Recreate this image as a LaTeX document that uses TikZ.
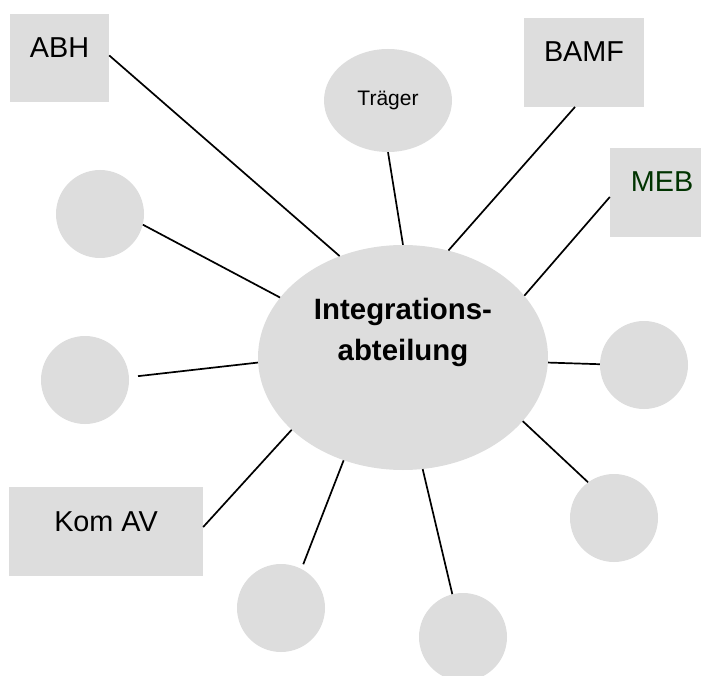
\documentclass[tikz,border=0pt]{standalone}
\usepackage{fontspec}
\setmainfont{Liberation Sans}
\usetikzlibrary{shapes.geometric}
\definecolor{boxgray}{RGB}{221,221,221}
\definecolor{mebgreen}{RGB}{0,51,0}
\begin{document}
\begin{tikzpicture}[x=1pt,y=-1pt,
  box/.style={rectangle, fill=boxgray, inner sep=0pt, minimum height=88.5pt,
    text height=20.5pt, text depth=21.5pt, font=\fontsize{28.8}{34}\selectfont},
  bubble/.style={circle, fill=boxgray, inner sep=0pt, minimum size=88pt},
  link/.style={line width=1.7pt, black},
  maintext/.style={font=\fontsize{29.4}{35}\selectfont\bfseries, anchor=base, inner sep=0pt}
]
\useasboundingbox (0,0) rectangle (701,676);
% boxes
\node[box, minimum width=99pt] (abh) at (59.5,58) {ABH};
\node[box, minimum width=120pt] (bamf) at (584,62.5) {BAMF};
\node[box, minimum width=104pt, text=mebgreen] (meb) at (662,192.5) {MEB};
\node[box, minimum width=194pt] (kom) at (106,531.5) {Kom AV};
% ellipses
\node[ellipse, fill=boxgray, minimum width=128pt, minimum height=103pt, inner sep=0pt,
  font=\fontsize{21}{24}\selectfont] (traeger) at (388,100.5) {Träger};
\node[ellipse, fill=boxgray, minimum width=290pt, minimum height=225pt, inner sep=0pt] (int) at (403,357.5) {};
\node[maintext] (t1) at (403,319) {Integrations-};
\node[maintext] (t2) at (403,360) {abteilung};
% circles
\node[bubble] (c1) at (100,214) {};
\node[bubble] (c2) at (85,380) {};
\node[bubble] (c3) at (644,365) {};
\node[bubble] (c4) at (614,518) {};
\node[bubble] (c5) at (281,608) {};
\node[bubble] (c6) at (463,637) {};
% connectors
\draw[link] (abh.3.5) -- (int.122.6);
\draw[link] (traeger.south) -- (int.90.5);
\draw[link] ([xshift=-9pt]bamf.south) -- (int.67.5);
\draw[link] ([yshift=-4.5pt]meb.west) -- (int.27.7);
\draw[link] (c1.-14.3) -- (int.154.7);
\draw[link] ([xshift=9pt]c2.5) -- (int.182.8);
\draw[link] ([yshift=4.5pt]kom.east) -- (int.213.7);
\draw[link] (c3.179) -- (int.-2);
\draw[link] (c4.126) -- (int.-28.4);
\draw[link] ([shift={(2.2pt,4.4pt)}]c5.63.4) -- (int.240.8);
\draw[link] (c6.104.7) -- (int.280.1);
\end{tikzpicture}
\end{document}
